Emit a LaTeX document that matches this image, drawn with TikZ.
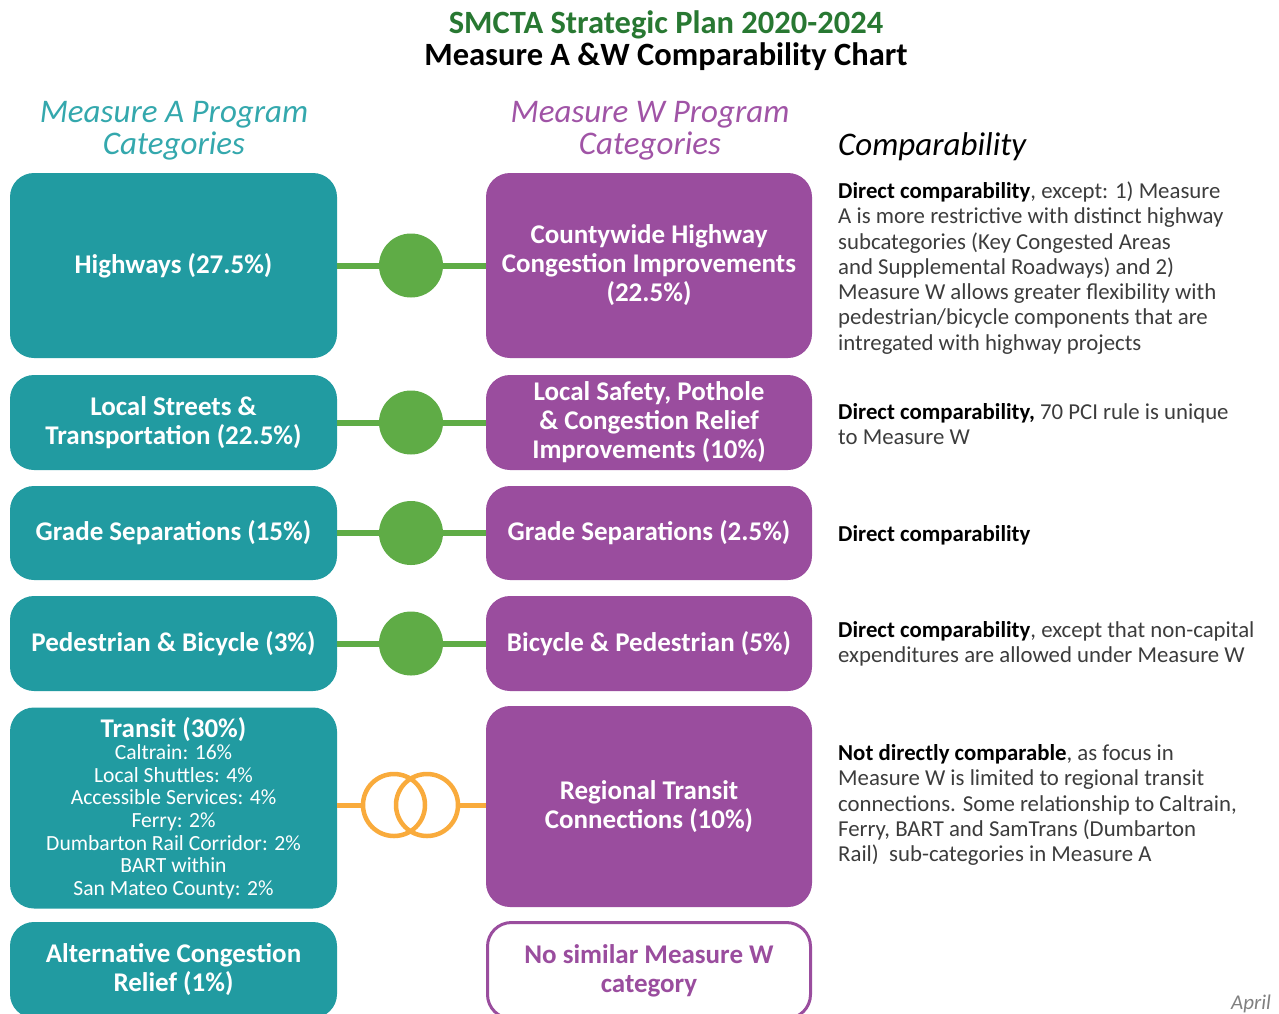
\documentclass[tikz,border=0pt]{standalone}
\usepackage{fontspec}
\setmainfont{Carlito}
\definecolor{tealbox}{RGB}{33,155,161}
\definecolor{purplebox}{RGB}{154,77,158}
\definecolor{linkgreen}{RGB}{95,172,70}
\definecolor{ringorange}{RGB}{249,171,60}
\definecolor{titlegreen}{RGB}{40,120,50}
\definecolor{headteal}{RGB}{52,168,173}
\definecolor{headpurple}{RGB}{160,84,166}
\definecolor{bodygray}{RGB}{60,60,60}

\tikzset{
  abox/.style={fill=tealbox, rounded corners=24pt, minimum width=327pt, inner sep=0pt,
    text=white, align=center, font=\fontsize{27}{29}\selectfont\bfseries},
  wbox/.style={fill=purplebox, rounded corners=24pt, minimum width=326pt, inner sep=0pt,
    text=white, align=center, font=\fontsize{27}{29}\selectfont\bfseries},
  compnote/.style={anchor=west, inner sep=0pt, align=left, text=bodygray,
    font=\fontsize{22.8}{25.3}\selectfont},
  dot/.style={circle, fill=linkgreen, minimum size=64pt, inner sep=0pt},
  link/.style={draw=linkgreen, line width=6pt},
  ring/.style={circle, draw=ringorange, line width=4.5pt, minimum size=62pt, inner sep=0pt},
  ringlink/.style={draw=ringorange, line width=5pt},
  colhead/.style={align=center, inner sep=0pt, font=\fontsize{33}{32}\selectfont\itshape}
}

\begin{document}
\begin{tikzpicture}[x=1pt,y=-1pt]
  \useasboundingbox (0,0) rectangle (1279,1013);
  \clip (0,0) rectangle (1279,1013);

  \node[font=\fontsize{32.5}{32}\selectfont\bfseries, text=titlegreen] (title) at (666,25) {SMCTA Strategic Plan 2020-2024};
  \node[font=\fontsize{32.5}{32}\selectfont\bfseries] (subtitle) at (666,57) {Measure A \&W Comparability Chart};

  \node[colhead, text=headteal] (headA) at (174,131) {Measure A Program\\Categories};
  \node[colhead, text=headpurple] (headW) at (650,131) {Measure W Program\\Categories};
  \node[colhead, anchor=west] (headC) at (838,147) {Comparability};

  \node[abox, minimum height=185pt] (aHwy) at (173.5,265.5) {Highways (27.5\%)};
  \node[wbox, minimum height=185pt] (wHwy) at (649,265.5) {Countywide Highway\\Congestion Improvements\\(22.5\%)};
  \node[dot] (cHwy) at (411,265.5) {};
  \draw[link] (aHwy) -- (cHwy);
  \draw[link] (cHwy) -- (wHwy);
  \node[compnote] (nHwy) at (838,268) {\textbf{\color{black}Direct comparability}, except: 1) Measure\\A is more restrictive with distinct highway\\subcategories (Key Congested Areas\\and Supplemental Roadways) and 2)\\Measure W allows greater flexibility with\\pedestrian/bicycle components that are\\intregated with highway projects};

  \node[abox, minimum height=95pt] (aLocal) at (173.5,422.5) {Local Streets \&\\Transportation (22.5\%)};
  \node[wbox, minimum height=95pt] (wLocal) at (649,422.5) {Local Safety, Pothole\\\& Congestion Relief\\Improvements (10\%)};
  \node[dot] (cLocal) at (411,422.5) {};
  \draw[link] (aLocal) -- (cLocal);
  \draw[link] (cLocal) -- (wLocal);
  \node[compnote] (nLocal) at (838,424) {\textbf{\color{black}Direct comparability,} 70 PCI rule is unique\\to Measure W};

  \node[abox, minimum height=94pt] (aGrade) at (173.5,533) {Grade Separations (15\%)};
  \node[wbox, minimum height=94pt] (wGrade) at (649,533) {Grade Separations (2.5\%)};
  \node[dot] (cGrade) at (411,533) {};
  \draw[link] (aGrade) -- (cGrade);
  \draw[link] (cGrade) -- (wGrade);
  \node[compnote] (nGrade) at (838,535) {\textbf{\color{black}Direct comparability}};

  \node[abox, minimum height=95pt] (aBike) at (173.5,643.5) {Pedestrian \& Bicycle (3\%)};
  \node[wbox, minimum height=95pt] (wBike) at (649,643.5) {Bicycle \& Pedestrian (5\%)};
  \node[dot] (cBike) at (411,643.5) {};
  \draw[link] (aBike) -- (cBike);
  \draw[link] (cBike) -- (wBike);
  \node[compnote] (nBike) at (838,644) {\textbf{\color{black}Direct comparability}, except that non-capital\\expenditures are allowed under Measure W};

  \node[abox, minimum height=201pt, font=\fontsize{21.6}{22.6}\selectfont] (aTransit) at (173.5,808) {{\fontsize{27}{26}\selectfont\bfseries Transit (30\%)}\\Caltrain: 16\%\\Local Shuttles: 4\%\\Accessible Services: 4\%\\Ferry: 2\%\\Dumbarton Rail Corridor: 2\%\\BART within\\San Mateo County: 2\%};
  \node[wbox, minimum height=201pt] (wTransit) at (649,806.5) {Regional Transit\\Connections (10\%)};
  \node[ring] (ringL) at (394,805) {};
  \node[ring] (ringR) at (427,805) {};
  \draw[ringlink] (aTransit.east |- ringL.west) -- (ringL.west);
  \draw[ringlink] (ringR.east) -- (wTransit.west |- ringR.east);
  \node[compnote] (nTransit) at (838,805) {\textbf{\color{black}Not directly comparable}, as focus in\\Measure W is limited to regional transit\\connections. Some relationship to Caltrain,\\Ferry, BART and SamTrans (Dumbarton\\Rail)\ \ sub-categories in Measure A};

  \node[abox, minimum height=96pt] (aAlt) at (173.5,970) {Alternative Congestion\\Relief (1\%)};
  \node[wbox, fill=white, draw=purplebox, line width=3pt, text=purplebox, minimum height=96pt, minimum width=323pt] (wNone) at (649,970.5) {No similar Measure W\\category};

  \node[anchor=west, inner sep=0pt, text=gray, font=\fontsize{21}{22}\selectfont\itshape] (date) at (1231,1004) {April};
\end{tikzpicture}
\end{document}
